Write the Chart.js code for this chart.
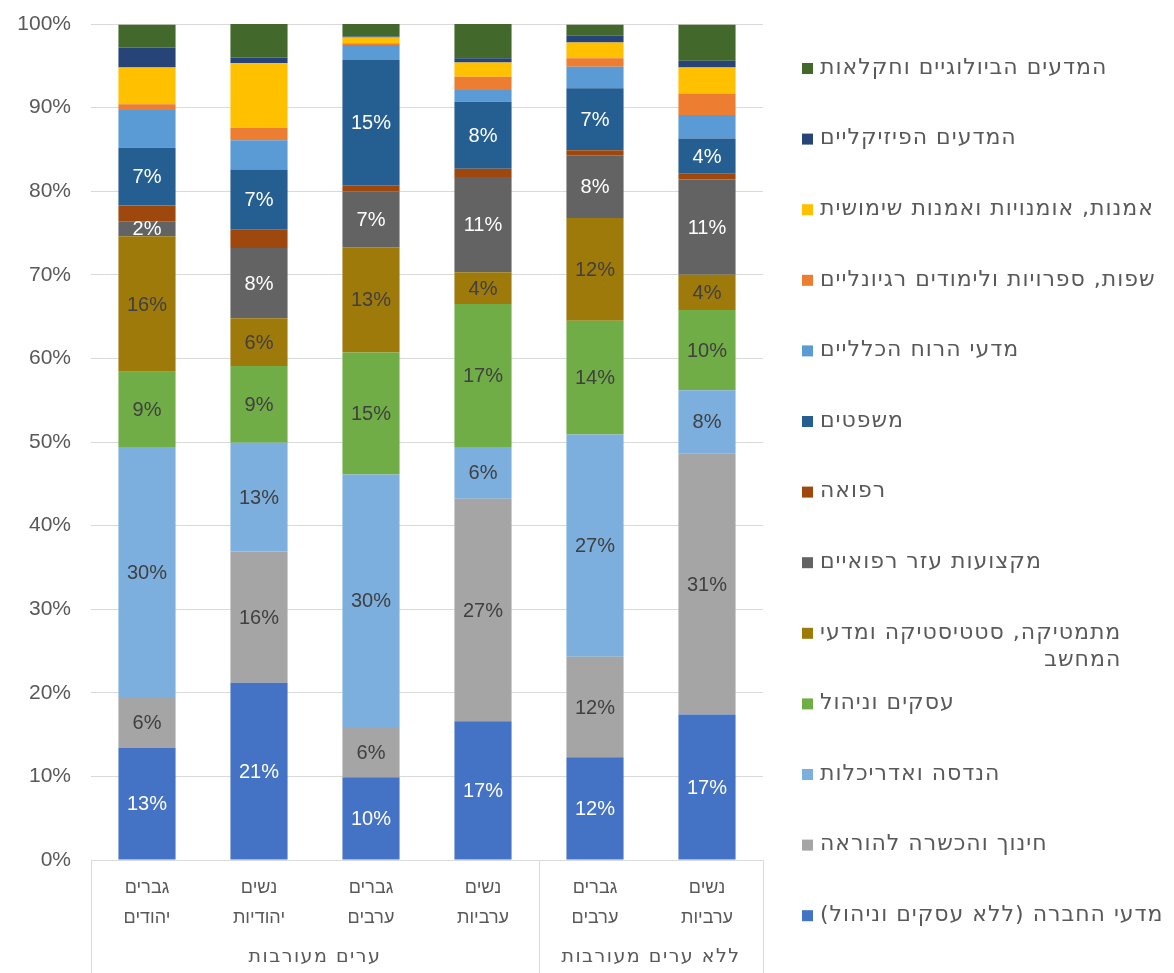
<!DOCTYPE html>
<html lang="he">
<head>
<meta charset="utf-8">
<title>תחומי לימוד</title>
<script src="https://cdn.jsdelivr.net/npm/chart.js@4.4.1/dist/chart.umd.min.js"></script>
<style>
  html, body { margin: 0; padding: 0; background: #fff; }
  #wrap { width: 1174px; height: 973px; }
</style>
</head>
<body>
<div id="wrap"><canvas id="myChart" width="1174" height="973"></canvas></div>
<script>
"use strict"

// bars: gender line / sector line, and the two groups under them
const barGender = ['גברים', 'נשים', 'גברים', 'נשים', 'גברים', 'נשים'];
const barSector = ['יהודים', 'יהודיות', 'ערבים', 'ערביות', 'ערבים', 'ערביות'];
const groupNames = ['ערים מעורבות', 'ללא ערים מעורבות'];
const groupSizes = [4, 2];

// share of students per field (%), bottom of the stack first
const socialSci   = [13.4, 21.2,  9.9, 16.6, 12.3, 17.4];
const education   = [ 6.1, 15.7,  6.0, 26.6, 12.0, 31.2];
const engineering = [29.9, 13.0, 30.2,  6.2, 26.6,  7.6];
const business    = [ 9.0,  9.2, 14.6, 17.1, 13.6,  9.6];
const maths       = [16.2,  5.7, 12.6,  3.8, 12.3,  4.2];
const paramedical = [ 1.8,  8.4,  6.7, 11.4,  7.5, 11.4];
const medicine    = [ 1.9,  2.2,  0.7,  1.0,  0.6,  0.7];
const law         = [ 6.9,  7.2, 15.0,  8.0,  7.4,  4.2];
const humanities  = [ 4.5,  3.5,  1.8,  1.4,  2.6,  2.8];
const languages   = [ 0.7,  1.5,  0.2,  1.6,  1.0,  2.6];
const arts        = [ 4.4,  7.7,  0.7,  1.7,  1.9,  3.1];
const physical    = [ 2.4,  0.7,  0.1,  0.5,  0.8,  0.8];
const biology     = [ 2.7,  4.0,  1.5,  4.1,  1.3,  4.3];

const seriesNames = [
    'מדעי החברה (ללא עסקים וניהול)',
    'חינוך והכשרה להוראה',
    'הנדסה ואדריכלות',
    'עסקים וניהול',
    ['מתמטיקה, סטטיסטיקה ומדעי', 'המחשב'],
    'מקצועות עזר רפואיים',
    'רפואה',
    'משפטים',
    'מדעי הרוח הכלליים',
    'שפות, ספרויות ולימודים רגיונליים',
    'אמנות, אומנויות ואמנות שימושית',
    'המדעים הפיזיקליים',
    'המדעים הביולוגיים וחקלאות',
];
const seriesValues = [socialSci, education, engineering, business, maths, paramedical,
    medicine, law, humanities, languages, arts, physical, biology];
const seriesColors = ['#4472C4', '#A5A5A5', '#7CAFDD', '#70AD47', '#9E7A0A', '#636363',
    '#9E480E', '#255E91', '#5B9BD5', '#ED7D31', '#FFC000', '#264478', '#43682B'];

// which series get a value label, and in which colour
const labelColors = ['#ffffff', '#404040', '#404040', '#404040', '#404040', '#ffffff',
    null, '#ffffff', null, null, null, null, null];

const yTicks = [0, 10, 20, 30, 40, 50, 60, 70, 80, 90, 100];

const FONT = '"Liberation Sans", "DejaVu Sans", sans-serif';
const HEB_FONT = '"DejaVu Sans", "Liberation Sans", sans-serif';
const TEXT = '#595959';
const LINE = '#D9D9D9';

const datasets = seriesValues.map((vals, i) => ({
    label: Array.isArray(seriesNames[i]) ? seriesNames[i].join(' ') : seriesNames[i],
    data: vals,
    backgroundColor: seriesColors[i],
    borderWidth: 0,
    categoryPercentage: 1,
    barPercentage: 0.51,
}));

// value labels in the middle of each segment
const valueLabels = {
    id: 'valueLabels',
    afterDatasetsDraw(chart) {
        const ctx = chart.ctx;
        ctx.save();
        ctx.font = '20px ' + FONT;
        ctx.textAlign = 'center';
        ctx.textBaseline = 'middle';
        chart.data.datasets.forEach((ds, i) => {
            if (!labelColors[i]) return;
            ctx.fillStyle = labelColors[i];
            chart.getDatasetMeta(i).data.forEach((bar, j) => {
                const p = bar.getCenterPoint();
                ctx.fillText(Math.round(ds.data[j]) + '%', p.x, p.y + 1);
            });
        });
        ctx.restore();
    }
};

// two-level category axis with group dividers
const groupAxis = {
    id: 'groupAxis',
    afterDraw(chart) {
        const ctx = chart.ctx;
        const x = chart.scales.x;
        const area = chart.chartArea;
        const step = x.getPixelForValue(1) - x.getPixelForValue(0);
        ctx.save();
        ctx.strokeStyle = LINE;
        ctx.lineWidth = 1;
        ctx.fillStyle = TEXT;
        ctx.textAlign = 'center';
        ctx.textBaseline = 'middle';
        ctx.direction = 'rtl';

        ctx.font = '18px ' + FONT;
        barGender.forEach((g, i) => {
            const cx = x.getPixelForValue(i);
            ctx.fillText(g, cx, area.bottom + 28);
            ctx.fillText(barSector[i], cx, area.bottom + 58);
        });

        ctx.font = '19px ' + HEB_FONT;
        ctx.letterSpacing = '1.5px';
        let start = 0;
        const edges = [0];
        groupNames.forEach((name, k) => {
            const end = start + groupSizes[k] - 1;
            const cx = (x.getPixelForValue(start) + x.getPixelForValue(end)) / 2;
            ctx.fillText(name, cx, area.bottom + 97);
            start = end + 1;
            edges.push(start);
        });
        edges.forEach(idx => {
            const px = Math.round(x.getPixelForValue(idx) - step / 2) + 0.5;
            ctx.beginPath();
            ctx.moveTo(px, area.bottom);
            ctx.lineTo(px, chart.height);
            ctx.stroke();
        });
        ctx.restore();
    }
};

// legend on the right, top item = top of the stack
const sideLegend = {
    id: 'sideLegend',
    afterDraw(chart) {
        const ctx = chart.ctx;
        ctx.save();
        ctx.font = '22px ' + HEB_FONT;
        ctx.letterSpacing = '1px';
        ctx.textBaseline = 'middle';
        ctx.textAlign = 'right';
        ctx.direction = 'rtl';
        const left = 802;
        let y = 68;
        for (let i = seriesNames.length - 1; i >= 0; i--) {
            const lines = Array.isArray(seriesNames[i]) ? seriesNames[i] : [seriesNames[i]];
            ctx.fillStyle = seriesColors[i];
            ctx.fillRect(left, y - 5, 11, 11);
            const w = Math.max(...lines.map(l => ctx.measureText(l).width));
            ctx.fillStyle = TEXT;
            lines.forEach((l, k) => ctx.fillText(l, left + 18 + w, y + k * 27));
            y += 70.6;
        }
        ctx.restore();
    }
};

new Chart(document.getElementById('myChart'), {
    type: 'bar',
    data: { labels: barGender.map((g, i) => g + ' ' + barSector[i]), datasets: datasets },
    options: {
        responsive: false,
        animation: false,
        layout: { padding: { top: 24, right: 411, bottom: 0, left: 0 } },
        plugins: {
            legend: { display: false },
            tooltip: { enabled: false },
        },
        scales: {
            x: {
                stacked: true,
                grid: { display: false },
                border: { display: false },
                ticks: { display: false },
                afterFit(scale) { scale.height = 113; },
            },
            y: {
                stacked: true,
                min: 0,
                max: 100,
                afterBuildTicks(scale) { scale.ticks = yTicks.map(v => ({ value: v })); },
                ticks: {
                    color: TEXT,
                    font: { family: FONT, size: 21 },
                    padding: 20,
                    callback: v => v + '%',
                },
                grid: { color: LINE, drawTicks: false },
                border: { display: false },
                afterFit(scale) {
                    scale.width = 91;
                    scale.paddingTop = 0;
                    scale.paddingBottom = 0;
                },
            }
        }
    },
    plugins: [valueLabels, groupAxis, sideLegend]
});
</script>
</body>
</html>
